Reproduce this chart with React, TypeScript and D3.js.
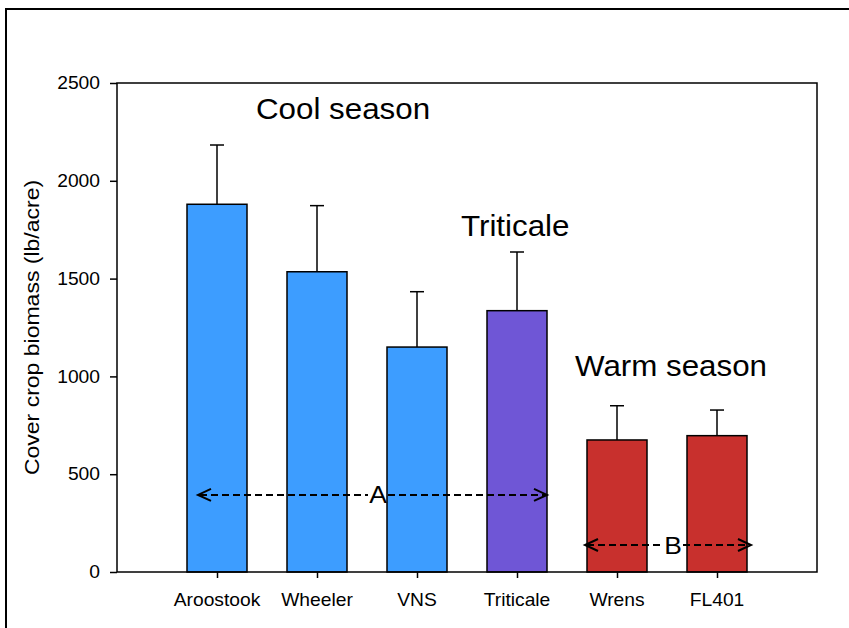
import React, { useRef, useEffect } from "react";
import * as d3 from "d3";

const categories = ["Aroostook", "Wheeler", "VNS", "Triticale", "Wrens", "FL401"];
const biomass = [1880, 1535, 1150, 1336, 675, 697];
const errors = [303, 338, 283, 300, 175, 131];
const groups = ["cool", "cool", "cool", "triticale", "warm", "warm"];
const yTicks = [0, 500, 1000, 1500, 2000, 2500];

const colors = { cool: "#3d9dff", triticale: "#6f56d6", warm: "#c8302d" };

const BarChart = ({ width = 849, height = 628 }) => {
  const svgRef = useRef(null);

  useEffect(() => {
    d3.select(svgRef.current).selectAll("*").remove();
    const svg = d3.select(svgRef.current);

    const left = 117, right = 817, top = 83, bottom = 572;
    const font = "Arial, 'Liberation Sans', sans-serif";
    const sx = 1.1; // the original text looks a bit stretched sideways

    const x = d3.scaleLinear().domain([0, 7]).range([left, right]);
    const y = d3.scaleLinear().domain([0, 2500]).range([bottom, top]);
    const barW = x(0.6) - x(0);

    const label = (px, py, txt, size, anchor = "start", stretch = sx, baseline = "auto") =>
      svg.append("text")
        .attr("transform", `translate(${px},${py}) scale(${stretch},1)`)
        .attr("text-anchor", anchor)
        .attr("dominant-baseline", baseline)
        .attr("font-family", font).attr("font-size", size).attr("fill", "black")
        .text(txt);

    svg.append("rect").attr("width", width).attr("height", height).attr("fill", "white");

    // outer frame (runs off the right and bottom)
    svg.append("path")
      .attr("d", `M${width + 5},9 H6 V${height + 5}`)
      .attr("fill", "none").attr("stroke", "black").attr("stroke-width", 2);

    const data = categories.map((c, i) => ({ c, i, v: biomass[i], e: errors[i], g: groups[i] }));

    // error bars (upper only)
    svg.selectAll(".err")
      .data(data).enter().append("g")
      .each(function (d) {
        const g = d3.select(this);
        const cx = x(d.i + 1);
        g.append("line").attr("x1", cx).attr("x2", cx).attr("y1", y(d.v)).attr("y2", y(d.v + d.e))
          .attr("stroke", "black").attr("stroke-width", 1.5);
        g.append("line").attr("x1", cx - 7).attr("x2", cx + 7).attr("y1", y(d.v + d.e)).attr("y2", y(d.v + d.e))
          .attr("stroke", "black").attr("stroke-width", 1.5);
      });

    svg.selectAll(".bar")
      .data(data).enter().append("rect")
      .attr("x", d => x(d.i + 1) - barW / 2)
      .attr("y", d => y(d.v))
      .attr("width", barW)
      .attr("height", d => bottom - y(d.v))
      .attr("fill", d => colors[d.g])
      .attr("stroke", "black").attr("stroke-width", 1.5);

    // plot frame
    svg.append("rect")
      .attr("x", left).attr("y", top).attr("width", right - left).attr("height", bottom - top)
      .attr("fill", "none").attr("stroke", "black").attr("stroke-width", 1.5);

    // y axis ticks
    const yAxis = svg.append("g").attr("transform", `translate(${left},0)`)
      .call(d3.axisLeft(y).tickValues(yTicks).tickSize(7).tickFormat(""));
    yAxis.select(".domain").remove();
    yAxis.selectAll("line").attr("stroke", "black").attr("stroke-width", 1.5);
    yTicks.forEach(t => label(100, y(t), d3.format("d")(t), 17.5, "end", sx, "central"));

    // x axis ticks
    const xAxis = svg.append("g").attr("transform", `translate(0,${bottom})`)
      .call(d3.axisBottom(x).tickValues(categories.map((_, i) => i + 1)).tickSize(6).tickFormat(""));
    xAxis.select(".domain").remove();
    xAxis.selectAll("line").attr("stroke", "black").attr("stroke-width", 1.5);
    categories.forEach((c, i) => label(x(i + 1), 606, c, 17.5, "middle"));

    svg.append("text")
      .attr("transform", `translate(32,${(top + bottom) / 2}) rotate(-90) scale(1.15,1)`)
      .attr("text-anchor", "middle").attr("dominant-baseline", "central")
      .attr("font-family", font).attr("font-size", 20)
      .text("Cover crop biomass (lb/acre)");

    // group labels
    const groupLabels = [
      { t: "Cool season", x: 256, y: 119 },
      { t: "Triticale", x: 461, y: 236 },
      { t: "Warm season", x: 575, y: 376 },
    ];
    groupLabels.forEach(d => label(d.x, d.y, d.t, 29, "start", 1.08));

    // significance arrows
    const arrows = [
      { t: "A", x0: 0.81, x1: 4.3, v: 394, mid: 2.61 },
      { t: "B", x0: 4.68, x1: 6.34, v: 138, mid: 5.56 },
    ];
    arrows.forEach(a => {
      const yy = y(a.v);
      const xa = x(a.x0), xb = x(a.x1), xm = x(a.mid);
      const g = svg.append("g");
      g.append("line").attr("x1", xa + 2).attr("x2", xm - 10).attr("y1", yy).attr("y2", yy)
        .attr("stroke", "black").attr("stroke-width", 2).attr("stroke-dasharray", "7 4");
      g.append("line").attr("x1", xm + 10).attr("x2", xb - 2).attr("y1", yy).attr("y2", yy)
        .attr("stroke", "black").attr("stroke-width", 2).attr("stroke-dasharray", "7 4");
      g.append("path").attr("d", `M${xa + 13},${yy - 6} L${xa},${yy} L${xa + 13},${yy + 6}`)
        .attr("fill", "none").attr("stroke", "black").attr("stroke-width", 2);
      g.append("path").attr("d", `M${xb - 13},${yy - 6} L${xb},${yy} L${xb - 13},${yy + 6}`)
        .attr("fill", "none").attr("stroke", "black").attr("stroke-width", 2);
      label(xm, yy, a.t, 24, "middle", sx, "central");
    });
  }, [width, height]);

  return <svg ref={svgRef} width={width} height={height} style={{ position: "absolute", left: 0, top: 0 }}></svg>;
};

export default function App() {
  return <BarChart />;
}
